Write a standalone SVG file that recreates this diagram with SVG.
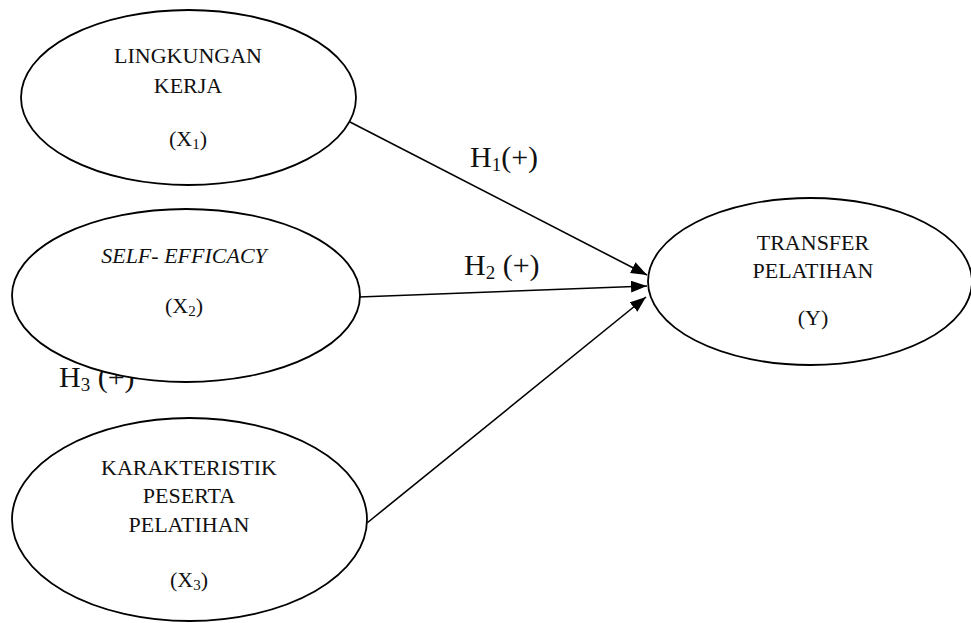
<svg xmlns="http://www.w3.org/2000/svg" width="971" height="623" viewBox="0 0 971 623">
<style>
.node ellipse{fill:#fff;stroke:#000;stroke-width:1.8}
.t{font-family:"Liberation Serif","Times New Roman",serif;font-size:22px;fill:#111;text-anchor:middle}
.h{font-family:"Liberation Serif","Times New Roman",serif;font-size:30px;fill:#111}
.conn line{stroke:#000;stroke-width:1.6}
</style>
<defs>
<marker id="arr" viewBox="0 0 16 12" refX="16" refY="6" markerWidth="16" markerHeight="12" markerUnits="userSpaceOnUse" orient="auto">
<path d="M0,0 L16,6 L0,12 Z" fill="#000"/>
</marker>
</defs>
<g id="connectors" class="conn">
<line x1="350" y1="122" x2="647" y2="275" marker-end="url(#arr)"/>
<line x1="359" y1="297" x2="647" y2="286" marker-end="url(#arr)"/>
<line x1="367" y1="523" x2="646" y2="297" marker-end="url(#arr)"/>
<text class="h" x="470" y="167">H<tspan font-size="19" dy="4">1</tspan><tspan dy="-4">(+)</tspan></text>
<text class="h" x="464" y="275">H<tspan font-size="19" dy="4">2</tspan><tspan dy="-4"> (+)</tspan></text>
<text class="h" x="59" y="387">H<tspan font-size="19" dy="4">3</tspan><tspan dy="-4"> (+)</tspan></text>
</g>
<g id="node-x1" class="node">
<ellipse cx="188.5" cy="97.5" rx="167.5" ry="87.5"/>
<text class="t" x="188" y="63">LINGKUNGAN</text>
<text class="t" x="188" y="93">KERJA</text>
<text class="t" x="188" y="146">(X<tspan font-size="15" dy="3">1</tspan><tspan dy="-3">)</tspan></text>
</g>
<g id="node-x2" class="node">
<ellipse cx="186" cy="295.5" rx="174" ry="86.5"/>
<text class="t" x="184" y="263" font-style="italic">SELF- EFFICACY</text>
<text class="t" x="184" y="313">(X<tspan font-size="15" dy="3">2</tspan><tspan dy="-3">)</tspan></text>
</g>
<g id="node-x3" class="node">
<ellipse cx="189.5" cy="519.5" rx="177.5" ry="101.5"/>
<text class="t" x="189" y="475">KARAKTERISTIK</text>
<text class="t" x="189" y="503">PESERTA</text>
<text class="t" x="189" y="532">PELATIHAN</text>
<text class="t" x="189" y="587">(X<tspan font-size="15" dy="3">3</tspan><tspan dy="-3">)</tspan></text>
</g>
<g id="node-y" class="node">
<ellipse cx="810" cy="281.5" rx="162" ry="83.5"/>
<text class="t" x="813" y="250">TRANSFER</text>
<text class="t" x="813" y="278">PELATIHAN</text>
<text class="t" x="813" y="325">(Y)</text>
</g>
</svg>
